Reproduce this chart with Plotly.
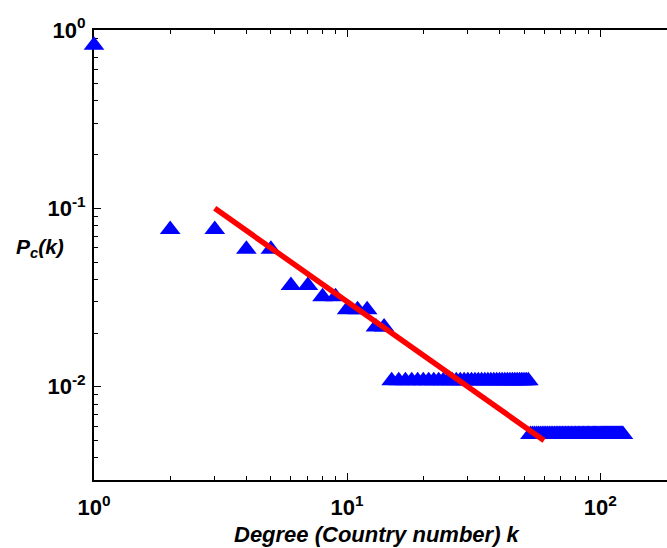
import plotly.graph_objects as go

# ---- data ----
degree_head = [1, 2, 3, 4, 5, 6, 7, 8, 9, 10, 11, 12, 13, 14]
pc_head = [0.82, 0.076, 0.076, 0.059, 0.059, 0.037, 0.037, 0.032, 0.032,
           0.027, 0.027, 0.027, 0.0216, 0.0216]

degree_band1 = [15, 16, 17, 18, 19, 20, 21, 22, 23, 24, 25, 26, 27, 28, 29, 30,
                31, 32, 33, 34, 35, 36, 37, 38, 39, 40, 41, 42, 43, 44, 45, 46,
                47, 48, 49, 50, 51, 52]
pc_band1 = [0.0108, 0.0108, 0.0108, 0.0108, 0.0108, 0.0108, 0.0108, 0.0108,
            0.0108, 0.0108, 0.0108, 0.0108, 0.0108, 0.0108, 0.0108, 0.0108,
            0.0108, 0.0108, 0.0108, 0.0108, 0.0108, 0.0108, 0.0108, 0.0108,
            0.0108, 0.0108, 0.0108, 0.0108, 0.0108, 0.0108, 0.0108, 0.0108,
            0.0108, 0.0108, 0.0108, 0.0108, 0.0108, 0.0108]

degree_band2 = [53, 54, 55, 56, 57, 58, 59, 60, 61, 62, 63, 64, 65, 66, 67, 68,
                69, 70, 71, 72, 73, 74, 75, 76, 77, 78, 79, 80, 81, 82, 83, 84,
                85, 86, 87, 88, 89, 90, 91, 92, 93, 94, 95, 96, 97, 98, 99, 100,
                101, 102, 103, 104, 105, 106, 107, 108, 109, 110, 111, 112, 113,
                114, 115, 116, 117, 118, 119, 120, 121, 122, 123]
pc_band2 = [0.0054, 0.0054, 0.0054, 0.0054, 0.0054, 0.0054, 0.0054, 0.0054,
            0.0054, 0.0054, 0.0054, 0.0054, 0.0054, 0.0054, 0.0054, 0.0054,
            0.0054, 0.0054, 0.0054, 0.0054, 0.0054, 0.0054, 0.0054, 0.0054,
            0.0054, 0.0054, 0.0054, 0.0054, 0.0054, 0.0054, 0.0054, 0.0054,
            0.0054, 0.0054, 0.0054, 0.0054, 0.0054, 0.0054, 0.0054, 0.0054,
            0.0054, 0.0054, 0.0054, 0.0054, 0.0054, 0.0054, 0.0054, 0.0054,
            0.0054, 0.0054, 0.0054, 0.0054, 0.0054, 0.0054, 0.0054, 0.0054,
            0.0054, 0.0054, 0.0054, 0.0054, 0.0054, 0.0054, 0.0054, 0.0054,
            0.0054, 0.0054, 0.0054, 0.0054, 0.0054, 0.0054, 0.0054]

fit_k = [3, 60]
fit_pc = [0.1, 0.005]

x_tickvals = [1, 10, 100]
x_ticktext = ["10<sup>0</sup>", "10<sup>1</sup>", "10<sup>2</sup>"]
x_minor = [2, 3, 4, 5, 6, 7, 8, 9, 20, 30, 40, 50, 60, 70, 80, 90]
y_tickvals = [0.01, 0.1, 1]
y_ticktext = ["10<sup>-2</sup>", "10<sup>-1</sup>", "10<sup>0</sup>"]
y_minor = [0.003, 0.004, 0.005, 0.006, 0.007, 0.008, 0.009,
           0.02, 0.03, 0.04, 0.05, 0.06, 0.07, 0.08, 0.09,
           0.2, 0.3, 0.4, 0.5, 0.6, 0.7, 0.8, 0.9]

degree_all = degree_head + degree_band1 + degree_band2
pc_all = pc_head + pc_band1 + pc_band2

FONT = "Liberation Sans, Arial, sans-serif"

fig = go.Figure()
fig.add_trace(go.Scatter(
    x=degree_all, y=pc_all, mode="markers",
    marker=dict(symbol="triangle-up", size=18, color="#0000FF",
                line=dict(width=0)),
    cliponaxis=False, showlegend=False,
))
fig.add_trace(go.Scatter(
    x=fit_k, y=fit_pc, mode="lines",
    line=dict(color="#FF0000", width=5.5),
    cliponaxis=False, showlegend=False,
))

axis_common = dict(
    type="log", showgrid=False, zeroline=False,
    showline=True, linecolor="black", linewidth=2,
    ticks="inside", ticklen=7, tickwidth=1, tickcolor="black",
    tickmode="array", layer="below traces",
    tickfont=dict(family=FONT, size=22, color="black", weight="bold"),
)

fig.update_xaxes(
    **axis_common,
    range=[0, 2.264],
    tickvals=x_tickvals, ticktext=x_ticktext,
    mirror="ticks",
    ticklabelstandoff=7,
    minor=dict(tickmode="array", tickvals=x_minor, ticks="inside",
               ticklen=4, tickwidth=1, tickcolor="black", showgrid=False),
)
fig.update_yaxes(
    **axis_common,
    range=[-2.5229, 0],
    tickvals=y_tickvals, ticktext=y_ticktext,
    mirror=False,
    ticklabelstandoff=2,
    minor=dict(tickmode="array", tickvals=y_minor, ticks="inside",
               ticklen=4, tickwidth=1, tickcolor="black", showgrid=False),
)

fig.add_annotation(
    text="<b><i>P<sub>c</sub>(k)</i></b>", xref="paper", yref="paper",
    x=-0.094, y=0.516, showarrow=False,
    font=dict(family=FONT, size=21, color="black"),
    xanchor="center", yanchor="middle",
)
fig.add_annotation(
    text="<b><i>Degree (Country number) k</i></b>", xref="paper", yref="paper",
    x=0.494, y=-0.12, showarrow=False,
    font=dict(family=FONT, size=22, color="black"),
    xanchor="center", yanchor="middle",
)

fig.update_layout(
    width=667, height=548,
    margin=dict(l=94, r=0, t=30, b=68),
    paper_bgcolor="white", plot_bgcolor="white",
    showlegend=False,
)

fig.write_html(
    "out.html",
    config={"displayModeBar": False},
    post_script="document.body.style.margin='0';document.body.style.overflow='hidden';",
)
